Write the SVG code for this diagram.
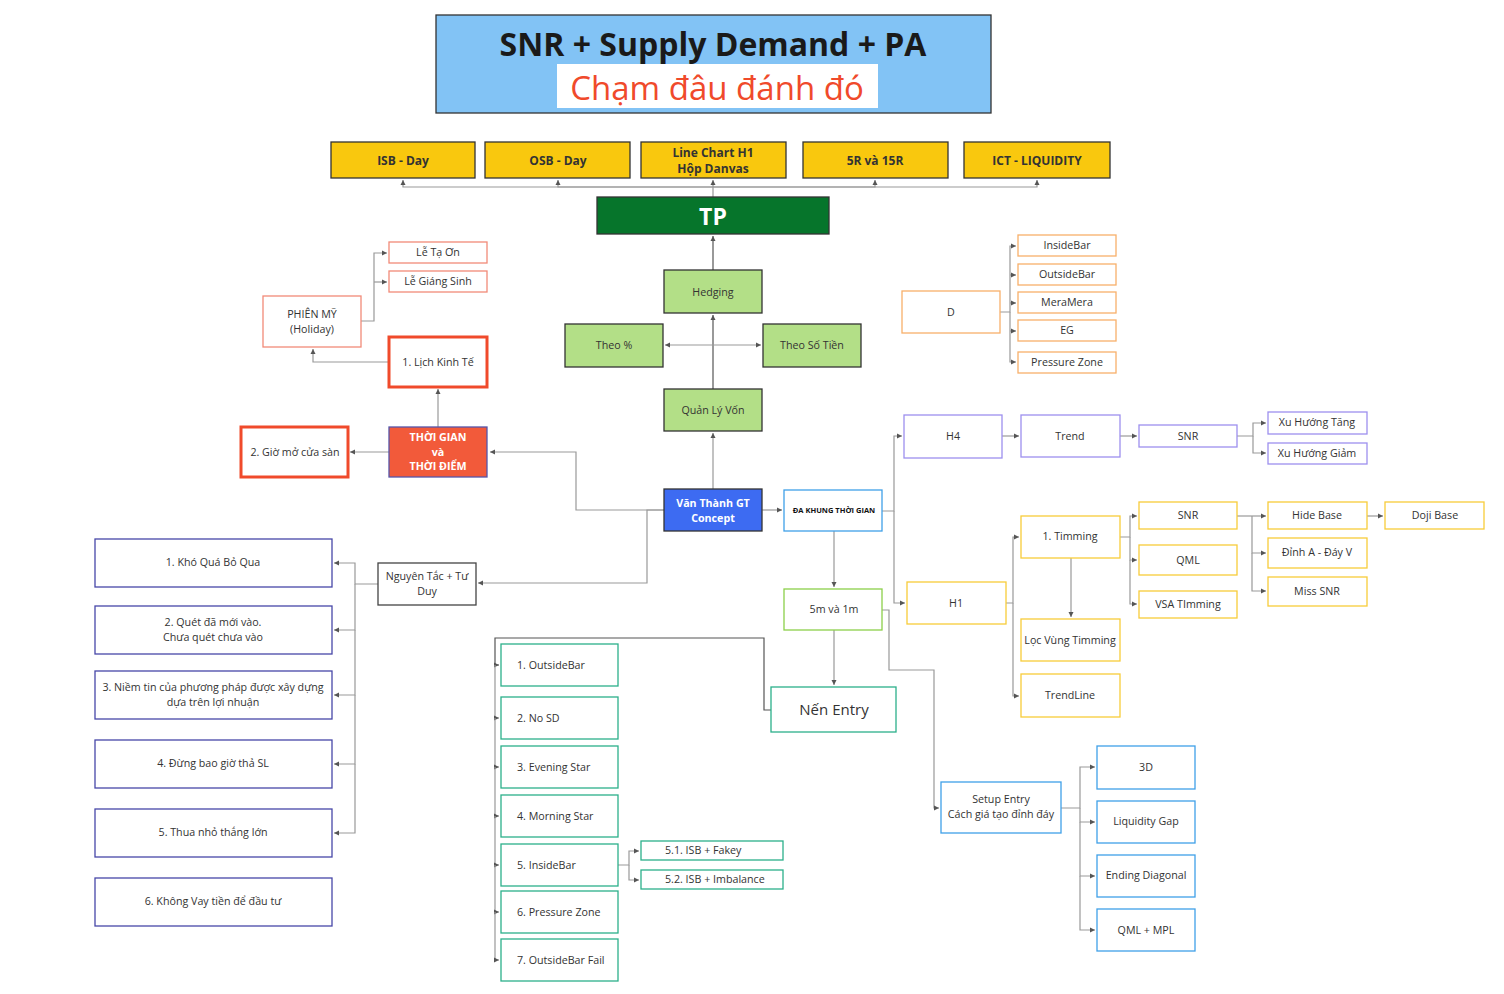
<svg xmlns="http://www.w3.org/2000/svg" width="1504" height="994" viewBox="0 0 1504 994">
<defs>
<marker id="a" viewBox="0 0 6 6" refX="6" refY="3" markerWidth="4.5" markerHeight="4.5" orient="auto"><path d="M0,0L6,3L0,6z" fill="#555"/></marker>
<style>
text{font-family:"Open Sans","Noto Sans","DejaVu Sans",sans-serif;font-size:10.7px;fill:#333;text-anchor:middle;dominant-baseline:central}
.b{font-weight:bold}
.w{fill:#fff}
.yel{fill:#f9c80e;stroke:#333;stroke-width:1.3}
.grn{fill:#b3df87;stroke:#333;stroke-width:1.3}
.red3{fill:#fff;stroke:#f04a2b;stroke-width:3}
.lred{fill:#fff;stroke:#f28a78;stroke-width:1.3}
.org{fill:#fff;stroke:#f7b06a;stroke-width:1.3}
.pur{fill:#fff;stroke:#9d90ee;stroke-width:1.3}
.ylo{fill:#fff;stroke:#f7cc3a;stroke-width:1.3}
.blu{fill:#fff;stroke:#3fa0e8;stroke-width:1.3}
.tea{fill:#fff;stroke:#2bb08a;stroke-width:1.3}
.dk{fill:#fff;stroke:#444;stroke-width:1.3}
.nv{fill:#fff;stroke:#4747a8;stroke-width:1.3}
.c path{fill:none;stroke:#999;stroke-width:1.2}
.c path.k{stroke:#555}
</style>
</defs>
<rect width="1504" height="994" fill="#fff"/>

<g id="title">
<rect x="436" y="15" width="555" height="98" fill="#82c3f5" stroke="#333" stroke-width="1.3"/>
<text x="713" y="43" class="b" style="font-size:32px;fill:#1a1a1a">SNR + Supply Demand + PA</text>
<rect x="557" y="64" width="321" height="44" fill="#fff"/>
<text x="717" y="87" style="font-size:33px;fill:#f04a2b">Chạm đâu đánh đó</text>
</g>

<g class="c">
<path d="M713,197V187H403V180" marker-end="url(#a)"/>
<path d="M713,187H558V180" marker-end="url(#a)"/>
<path d="M713,187V180" marker-end="url(#a)"/>
<path d="M713,187H875V180" marker-end="url(#a)"/>
<path d="M713,187H1037V180" marker-end="url(#a)"/>
<path d="M713,270V236" marker-end="url(#a)" class="k"/>
<path d="M713,389V315" marker-end="url(#a)" class="k"/>
<path d="M713,345H665" marker-end="url(#a)"/>
<path d="M713,345H761" marker-end="url(#a)"/>
<path d="M713,489V433" marker-end="url(#a)"/>
<path d="M762,510H782" marker-end="url(#a)"/>
<path d="M664,510H576V452H490" marker-end="url(#a)"/>
<path d="M664,510H647V583H478" marker-end="url(#a)"/>
<path d="M438,427V389" marker-end="url(#a)"/>
<path d="M389,452H350" marker-end="url(#a)"/>
<path d="M389,362H313V349" marker-end="url(#a)"/>
<path d="M361,321H374V253H387" marker-end="url(#a)"/>
<path d="M374,282H387" marker-end="url(#a)"/>
<path d="M1000,312H1010V246H1016" marker-end="url(#a)"/>
<path d="M1010,275H1016" marker-end="url(#a)"/>
<path d="M1010,303H1016" marker-end="url(#a)"/>
<path d="M1010,312V362H1016" marker-end="url(#a)"/>
<path d="M1010,331H1016" marker-end="url(#a)"/>
<path d="M882,511H894V436H902" marker-end="url(#a)"/>
<path d="M894,511V603H905" marker-end="url(#a)"/>
<path d="M1002,436H1019" marker-end="url(#a)"/>
<path d="M1120,436H1137" marker-end="url(#a)"/>
<path d="M1237,436H1253V423H1266" marker-end="url(#a)"/>
<path d="M1253,436V453H1266" marker-end="url(#a)"/>
<path d="M1006,603H1013V537H1019" marker-end="url(#a)"/>
<path d="M1013,603V696H1019" marker-end="url(#a)"/>
<path d="M1071,558V617" marker-end="url(#a)"/>
<path d="M1120,537H1130V516H1137" marker-end="url(#a)"/>
<path d="M1130,537V560H1137" marker-end="url(#a)"/>
<path d="M1130,560V604H1137" marker-end="url(#a)"/>
<path d="M1237,516H1266" marker-end="url(#a)"/>
<path d="M1252,516V553H1266" marker-end="url(#a)"/>
<path d="M1252,553V591H1266" marker-end="url(#a)"/>
<path d="M1367,516H1383" marker-end="url(#a)"/>
<path d="M834,531V587" marker-end="url(#a)"/>
<path d="M834,630V685" marker-end="url(#a)"/>
<path d="M882,610H889V670H934V808H939" marker-end="url(#a)"/>
<path d="M1061,808H1080V767H1095" marker-end="url(#a)"/>
<path d="M1080,808V822H1095" marker-end="url(#a)"/>
<path d="M1080,822V876H1095" marker-end="url(#a)"/>
<path d="M1080,876V930H1095" marker-end="url(#a)"/>
<path d="M771,710H764V638H495V665H499" marker-end="url(#a)" class="k"/>
<path d="M495,665V718H499" marker-end="url(#a)"/>
<path d="M495,718V767H499" marker-end="url(#a)"/>
<path d="M495,767V816H499" marker-end="url(#a)"/>
<path d="M495,816V865H499" marker-end="url(#a)"/>
<path d="M495,865V912H499" marker-end="url(#a)"/>
<path d="M495,912V960H499" marker-end="url(#a)"/>
<path d="M618,865H629V851H639" marker-end="url(#a)"/>
<path d="M629,865V880H639" marker-end="url(#a)"/>
<path d="M378,584H355V563H334" marker-end="url(#a)"/>
<path d="M355,584V630H334" marker-end="url(#a)"/>
<path d="M355,630V695H334" marker-end="url(#a)"/>
<path d="M355,695V764H334" marker-end="url(#a)"/>
<path d="M355,764V833H334" marker-end="url(#a)"/>
</g>

<g id="isb"><rect x="331" y="142" width="144" height="36" class="yel"/><text x="403" y="160" class="b" style="font-size:12px">ISB - Day</text></g>
<g id="osb"><rect x="485" y="142" width="145" height="36" class="yel"/><text x="558" y="160" class="b" style="font-size:12px">OSB - Day</text></g>
<g id="linechart"><rect x="641" y="142" width="145" height="36" class="yel"/><text x="713" y="152" class="b" style="font-size:12px">Line Chart H1</text><text x="713" y="168" class="b" style="font-size:12px">Hộp Danvas</text></g>
<g id="r5"><rect x="803" y="142" width="145" height="36" class="yel"/><text x="875" y="160" class="b" style="font-size:12px">5R và 15R</text></g>
<g id="ict"><rect x="964" y="142" width="146" height="36" class="yel"/><text x="1037" y="160" class="b" style="font-size:12px">ICT - LIQUIDITY</text></g>

<g id="tp"><rect x="597" y="197" width="232" height="37" fill="#06752b" stroke="#333" stroke-width="1.3"/><text x="713" y="216" class="b w" style="font-size:23px">TP</text></g>

<g id="hedging"><rect x="664" y="270" width="98" height="43" class="grn"/><text x="713" y="292">Hedging</text></g>
<g id="theopct"><rect x="565" y="324" width="98" height="43" class="grn"/><text x="614" y="345">Theo %</text></g>
<g id="theotien"><rect x="763" y="324" width="98" height="43" class="grn"/><text x="812" y="345">Theo Số Tiền</text></g>
<g id="qlv"><rect x="664" y="389" width="98" height="42" class="grn"/><text x="713" y="410">Quản Lý Vốn</text></g>
<g id="vanthanh"><rect x="664" y="489" width="98" height="42" fill="#3d6bf2" stroke="#333" stroke-width="1.3"/><text x="713" y="503" class="b w">Văn Thành GT</text><text x="713" y="518" class="b w">Concept</text></g>
<g id="dakhung"><rect x="784" y="490" width="98" height="41" class="blu"/><text x="834" y="510" class="b" style="font-size:7.5px;fill:#111">ĐA KHUNG THỜI GIAN</text></g>

<g id="thoigian"><rect x="389" y="427" width="98" height="50" fill="#f25a3a" stroke="#5555aa" stroke-width="1.3"/><text x="438" y="437" class="b w">THỜI GIAN</text><text x="438" y="452" class="b w">và</text><text x="438" y="466" class="b w">THỜI ĐIỂM</text></g>
<g id="lich"><rect x="389" y="337" width="98" height="50" class="red3"/><text x="438" y="362">1. Lịch Kinh Tế</text></g>
<g id="gio"><rect x="241" y="427" width="107" height="50" class="red3"/><text x="295" y="452">2. Giờ mở cửa sàn</text></g>
<g id="phienmy"><rect x="263" y="296" width="98" height="51" class="lred"/><text x="312" y="314">PHIÊN MỸ</text><text x="312" y="329">(Holiday)</text></g>
<g id="letaon"><rect x="389" y="242" width="98" height="21" class="lred"/><text x="438" y="252">Lễ Tạ Ơn</text></g>
<g id="legiangsinh"><rect x="389" y="271" width="98" height="21" class="lred"/><text x="438" y="281">Lễ Giáng Sinh</text></g>

<g id="d"><rect x="902" y="291" width="98" height="42" class="org"/><text x="951" y="312">D</text></g>
<g id="d1"><rect x="1018" y="235" width="98" height="21" class="org"/><text x="1067" y="245">InsideBar</text></g>
<g id="d2"><rect x="1018" y="264" width="98" height="21" class="org"/><text x="1067" y="274">OutsideBar</text></g>
<g id="d3"><rect x="1018" y="292" width="98" height="21" class="org"/><text x="1067" y="302">MeraMera</text></g>
<g id="d4"><rect x="1018" y="320" width="98" height="21" class="org"/><text x="1067" y="330">EG</text></g>
<g id="d5"><rect x="1018" y="352" width="98" height="21" class="org"/><text x="1067" y="362">Pressure Zone</text></g>

<g id="h4"><rect x="904" y="415" width="98" height="43" class="pur"/><text x="953" y="436">H4</text></g>
<g id="trend"><rect x="1021" y="415" width="99" height="42" class="pur"/><text x="1070" y="436">Trend</text></g>
<g id="snr4"><rect x="1139" y="425" width="98" height="22" class="pur"/><text x="1188" y="436">SNR</text></g>
<g id="xht"><rect x="1268" y="412" width="99" height="22" class="pur"/><text x="1317" y="422">Xu Hướng Tăng</text></g>
<g id="xhg"><rect x="1268" y="443" width="99" height="21" class="pur"/><text x="1317" y="453">Xu Hướng Giảm</text></g>

<g id="h1"><rect x="907" y="582" width="99" height="42" class="ylo"/><text x="956" y="603">H1</text></g>
<g id="timming"><rect x="1021" y="516" width="99" height="42" class="ylo"/><text x="1070" y="536">1. Timming</text></g>
<g id="locvung"><rect x="1021" y="619" width="99" height="42" class="ylo"/><text x="1070" y="640">Lọc Vùng Timming</text></g>
<g id="trendline"><rect x="1021" y="674" width="99" height="43" class="ylo"/><text x="1070" y="695">TrendLine</text></g>
<g id="snr1"><rect x="1139" y="502" width="98" height="27" class="ylo"/><text x="1188" y="515">SNR</text></g>
<g id="qml"><rect x="1139" y="545" width="98" height="30" class="ylo"/><text x="1188" y="560">QML</text></g>
<g id="vsa"><rect x="1139" y="591" width="98" height="27" class="ylo"/><text x="1188" y="604">VSA TImming</text></g>
<g id="hidebase"><rect x="1268" y="502" width="99" height="27" class="ylo"/><text x="1317" y="515">Hide Base</text></g>
<g id="dinha"><rect x="1268" y="538" width="99" height="30" class="ylo"/><text x="1317" y="552">Đỉnh A - Đáy V</text></g>
<g id="misssnr"><rect x="1268" y="577" width="99" height="29" class="ylo"/><text x="1317" y="591">Miss SNR</text></g>
<g id="doji"><rect x="1385" y="502" width="99" height="27" class="ylo"/><text x="1435" y="515">Doji Base</text></g>

<g id="m5"><rect x="784" y="589" width="98" height="41" fill="#fff" stroke="#8cd04a" stroke-width="1.3"/><text x="834" y="609">5m và 1m</text></g>
<g id="nenentry"><rect x="771" y="687" width="125" height="45" class="tea"/><text x="834" y="709" style="font-size:15px">Nến Entry</text></g>

<g id="setup"><rect x="941" y="782" width="120" height="51" class="blu"/><text x="1001" y="799">Setup Entry</text><text x="1001" y="814">Cách giá tạo đỉnh đáy</text></g>
<g id="s3d"><rect x="1097" y="746" width="98" height="43" class="blu"/><text x="1146" y="767">3D</text></g>
<g id="liq"><rect x="1097" y="801" width="98" height="42" class="blu"/><text x="1146" y="821">Liquidity Gap</text></g>
<g id="ending"><rect x="1097" y="855" width="98" height="42" class="blu"/><text x="1146" y="875">Ending Diagonal</text></g>
<g id="qmlmpl"><rect x="1097" y="909" width="98" height="42" class="blu"/><text x="1146" y="930">QML + MPL</text></g>

<g id="e1"><rect x="501" y="644" width="117" height="42" class="tea"/><text x="517" y="665" style="text-anchor:start">1. OutsideBar</text></g>
<g id="e2"><rect x="501" y="697" width="117" height="42" class="tea"/><text x="517" y="718" style="text-anchor:start">2. No SD</text></g>
<g id="e3"><rect x="501" y="746" width="117" height="42" class="tea"/><text x="517" y="767" style="text-anchor:start">3. Evening Star</text></g>
<g id="e4"><rect x="501" y="795" width="117" height="42" class="tea"/><text x="517" y="816" style="text-anchor:start">4. Morning Star</text></g>
<g id="e5"><rect x="501" y="844" width="117" height="42" class="tea"/><text x="517" y="865" style="text-anchor:start">5. InsideBar</text></g>
<g id="e6"><rect x="501" y="891" width="117" height="42" class="tea"/><text x="517" y="912" style="text-anchor:start">6. Pressure Zone</text></g>
<g id="e7"><rect x="501" y="939" width="117" height="42" class="tea"/><text x="517" y="960" style="text-anchor:start">7. OutsideBar Fail</text></g>
<g id="e51"><rect x="641" y="841" width="142" height="19" class="tea"/><text x="665" y="850" style="text-anchor:start">5.1. ISB + Fakey</text></g>
<g id="e52"><rect x="641" y="870" width="142" height="19" class="tea"/><text x="665" y="879" style="text-anchor:start">5.2. ISB + Imbalance</text></g>

<g id="nguyentac"><rect x="378" y="563" width="98" height="42" class="dk"/><text x="427" y="576">Nguyên Tắc + Tư</text><text x="427" y="591">Duy</text></g>
<g id="n1"><rect x="95" y="539" width="237" height="48" class="nv"/><text x="213" y="562">1. Khó Quá Bỏ Qua</text></g>
<g id="n2"><rect x="95" y="606" width="237" height="48" class="nv"/><text x="213" y="622">2. Quét đã mới vào.</text><text x="213" y="637">Chưa quét chưa vào</text></g>
<g id="n3"><rect x="95" y="671" width="237" height="48" class="nv"/><text x="213" y="687">3. Niềm tin của phương pháp được xây dựng</text><text x="213" y="702">dựa trên lợi nhuận</text></g>
<g id="n4"><rect x="95" y="740" width="237" height="48" class="nv"/><text x="213" y="763">4. Đừng bao giờ thả SL</text></g>
<g id="n5"><rect x="95" y="809" width="237" height="48" class="nv"/><text x="213" y="832">5. Thua nhỏ thắng lớn</text></g>
<g id="n6"><rect x="95" y="878" width="237" height="48" class="nv"/><text x="213" y="901">6. Không Vay tiền để đầu tư</text></g>
</svg>
